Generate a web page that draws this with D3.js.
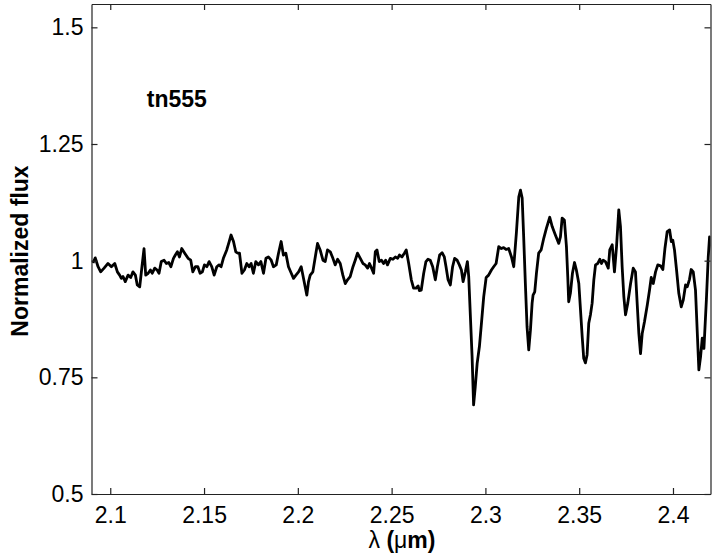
<!DOCTYPE html>
<html><head><meta charset="utf-8">
<script src="https://cdnjs.cloudflare.com/ajax/libs/d3/7.8.5/d3.min.js"></script>
<style>body{margin:0;background:#fff}svg{display:block}text{font-family:"Liberation Sans",Arial,sans-serif}</style>
</head><body>
<svg id="c" width="717" height="557"></svg>
<script>
const wavelength = [2.0908,2.0920,2.0935,2.0949,2.0967,2.0988,2.1006,2.1024,2.1038,2.1050,2.1059,2.1068,2.1080,2.1095,2.1109,2.1121,2.1134,2.1144,2.1157,2.1169,2.1180,2.1189,2.1202,2.1214,2.1224,2.1237,2.1250,2.1260,2.1272,2.1287,2.1299,2.1312,2.1323,2.1337,2.1347,2.1358,2.1369,2.1381,2.1397,2.1415,2.1429,2.1440,2.1454,2.1467,2.1479,2.1491,2.1502,2.1515,2.1527,2.1541,2.1554,2.1568,2.1580,2.1591,2.1603,2.1621,2.1634,2.1644,2.1657,2.1669,2.1680,2.1689,2.1702,2.1715,2.1728,2.1740,2.1751,2.1763,2.1776,2.1790,2.1803,2.1817,2.1830,2.1843,2.1858,2.1870,2.1885,2.1897,2.1911,2.1923,2.1936,2.1950,2.1965,2.1977,2.1990,2.2004,2.2018,2.2048,2.2057,2.2066,2.2080,2.2093,2.2105,2.2119,2.2134,2.2146,2.2158,2.2173,2.2187,2.2199,2.2212,2.2226,2.2240,2.2253,2.2265,2.2279,2.2294,2.2306,2.2318,2.2333,2.2347,2.2359,2.2372,2.2382,2.2393,2.2404,2.2413,2.2422,2.2434,2.2446,2.2457,2.2468,2.2478,2.2493,2.2507,2.2520,2.2532,2.2542,2.2555,2.2568,2.2578,2.2591,2.2605,2.2617,2.2630,2.2641,2.2648,2.2658,2.2671,2.2683,2.2694,2.2706,2.2719,2.2733,2.2744,2.2756,2.2769,2.2781,2.2790,2.2801,2.2813,2.2825,2.2836,2.2849,2.2861,2.2872,2.2881,2.2893,2.2904,2.2911,2.2920,2.2929,2.2937,2.2946,2.2956,2.2968,2.2978,2.2991,2.3004,2.3017,2.3032,2.3044,2.3057,2.3071,2.3085,2.3097,2.3110,2.3124,2.3139,2.3151,2.3165,2.3178,2.3187,2.3196,2.3204,2.3213,2.3222,2.3231,2.3240,2.3249,2.3254,2.3263,2.3272,2.3284,2.3297,2.3311,2.3325,2.3343,2.3356,2.3373,2.3391,2.3400,2.3409,2.3421,2.3432,2.3439,2.3444,2.3453,2.3464,2.3475,2.3485,2.3498,2.3507,2.3516,2.3524,2.3533,2.3542,2.3551,2.3560,2.3569,2.3578,2.3587,2.3599,2.3610,2.3619,2.3628,2.3640,2.3655,2.3663,2.3676,2.3688,2.3699,2.3711,2.3720,2.3729,2.3738,2.3747,2.3759,2.3774,2.3788,2.3800,2.3809,2.3818,2.3827,2.3836,2.3848,2.3863,2.3875,2.3884,2.3895,2.3907,2.3919,2.3934,2.3946,2.3957,2.3969,2.3982,2.3991,2.3999,2.4008,2.4019,2.4031,2.4044,2.4055,2.4067,2.4076,2.4088,2.4097,2.4108,2.4120,2.4129,2.4138,2.4147,2.4156,2.4165,2.4178,2.4188,2.4195,2.4204,2.4215];
const flux = [0.995,1.006,0.987,0.976,0.984,0.994,0.987,0.994,0.976,0.969,0.962,0.966,0.955,0.969,0.964,0.976,0.969,0.948,0.944,0.987,1.026,0.969,0.973,0.980,0.973,0.984,0.980,0.973,0.998,1.001,0.994,0.996,0.987,1.005,1.012,1.019,1.008,1.026,1.016,1.005,1.001,0.976,0.987,0.987,0.973,0.976,0.991,0.987,0.998,0.987,0.969,0.987,0.991,0.987,1.005,1.023,1.041,1.055,1.041,1.019,1.016,1.016,0.973,0.980,0.994,0.987,0.994,0.973,0.998,0.991,0.998,0.973,1.005,1.008,1.001,0.987,0.991,1.016,1.041,1.012,1.016,0.987,0.973,0.962,0.969,0.976,0.987,0.926,0.955,0.969,0.976,1.008,1.037,1.023,1.001,0.998,1.023,1.019,1.005,0.991,1.003,0.994,0.969,0.951,0.959,0.966,0.987,1.001,1.016,1.005,0.994,0.991,0.984,0.994,0.984,0.973,1.019,1.023,0.998,1.001,0.994,1.001,0.991,1.005,1.003,1.008,1.005,1.012,1.008,1.016,1.023,0.994,0.959,0.941,0.941,0.946,0.936,0.937,0.973,0.998,1.003,1.001,0.987,0.959,0.987,1.012,1.017,1.008,0.987,0.959,0.948,0.987,1.005,1.001,0.991,0.980,0.955,0.976,0.998,0.966,0.880,0.794,0.691,0.730,0.780,0.816,0.862,0.923,0.964,0.969,0.980,0.987,0.994,1.030,1.026,1.028,1.024,1.026,1.008,0.987,1.059,1.137,1.151,1.134,1.051,0.951,0.858,0.809,0.851,0.909,0.926,0.933,0.973,1.016,1.023,1.048,1.069,1.093,1.073,1.055,1.037,1.051,1.091,1.087,1.030,0.966,0.912,0.930,0.973,0.996,0.980,0.951,0.894,0.837,0.791,0.781,0.798,0.866,0.884,0.909,0.959,0.991,0.994,1.003,0.994,1.001,0.998,0.984,1.023,1.034,0.976,1.030,1.109,1.073,0.987,0.923,0.884,0.909,0.951,0.984,0.976,0.909,0.844,0.801,0.844,0.869,0.905,0.937,0.964,0.951,0.976,0.991,0.989,0.981,1.026,1.062,1.066,1.041,1.044,1.023,0.980,0.930,0.901,0.916,0.948,0.944,0.960,0.981,0.976,0.937,0.851,0.766,0.794,0.834,0.812,0.916,1.008,1.051,1.044,1.000];
const xTicks = [2.1,2.15,2.2,2.25,2.3,2.35,2.4];
const xTickLabels = ["2.1","2.15","2.2","2.25","2.3","2.35","2.4"];
const yTicks = [0.5,0.75,1,1.25,1.5];
const yTickLabels = ["0.5","0.75","1","1.25","1.5"];
const xDomain = [2.09, 2.42];
const yDomain = [0.5, 1.55];
const starLabel = "tn555";

const svg = d3.select("#c");
const L = 91.5, R = 710.5, T = 4, B = 494;
const FS = 23;
const x = d3.scaleLinear().domain(xDomain).range([L, R]);
const y = d3.scaleLinear().domain(yDomain).range([B, T]);

svg.append("defs").append("clipPath").attr("id","clip")
  .append("rect").attr("x",L).attr("y",T).attr("width",R-L).attr("height",B-T);

const data = wavelength.map((w,i)=>({w, f: flux[i]}));
svg.append("path").datum(data)
  .attr("clip-path","url(#clip)")
  .attr("fill","none").attr("stroke","#000").attr("stroke-width",2.8)
  .attr("stroke-linejoin","round")
  .attr("d", d3.line().x(d=>x(d.w)).y(d=>y(d.f)));

const tl = 6;
const fmtX = (d,i)=>xTickLabels[i];
const fmtY = (d,i)=>yTickLabels[i];
const gB = svg.append("g").attr("transform",`translate(0,${B})`)
  .call(d3.axisBottom(x).tickValues(xTicks).tickFormat(fmtX).tickSizeInner(-tl).tickSizeOuter(0).tickPadding(12));
const gT = svg.append("g").attr("transform",`translate(0,${T})`)
  .call(d3.axisTop(x).tickValues(xTicks).tickFormat("").tickSizeInner(-tl).tickSizeOuter(0));
const gL = svg.append("g").attr("transform",`translate(${L},0)`)
  .call(d3.axisLeft(y).tickValues(yTicks).tickFormat(fmtY).tickSizeInner(-tl).tickSizeOuter(0).tickPadding(7));
const gR = svg.append("g").attr("transform",`translate(${R},0)`)
  .call(d3.axisRight(y).tickValues(yTicks).tickFormat("").tickSizeInner(-tl).tickSizeOuter(0));
[gB,gT,gL,gR].forEach(g=>{
  g.selectAll(".domain").attr("stroke","#222").attr("stroke-width",1.2);
  g.selectAll(".tick line").attr("stroke","#222").attr("stroke-width",1.2);
  g.selectAll(".tick text").attr("font-size",FS).attr("fill","#000")
   .attr("font-family",'"Liberation Sans",Arial,sans-serif');
});
gB.selectAll(".tick text").attr("dy","0.72em");
gL.selectAll(".tick text").attr("dx","-1");

svg.append("text").attr("transform",`translate(28,${(T+B)/2 + 2}) rotate(-90)`)
  .attr("text-anchor","middle").attr("font-size",FS).attr("font-weight","bold")
  .text("Normalized flux");

const xl = svg.append("text").attr("x",(L+R)/2+1).attr("y",548)
  .attr("text-anchor","middle").attr("font-size",FS);
xl.append("tspan").text("λ ");
xl.append("tspan").attr("font-weight","bold").text("(");
xl.append("tspan").text("μ");
xl.append("tspan").attr("font-weight","bold").text("m)");

svg.append("text").attr("x",x(2.1195)).attr("y",y(1.33))
  .attr("font-size",FS).attr("font-weight","bold").text(starLabel);
</script>
</body></html>
